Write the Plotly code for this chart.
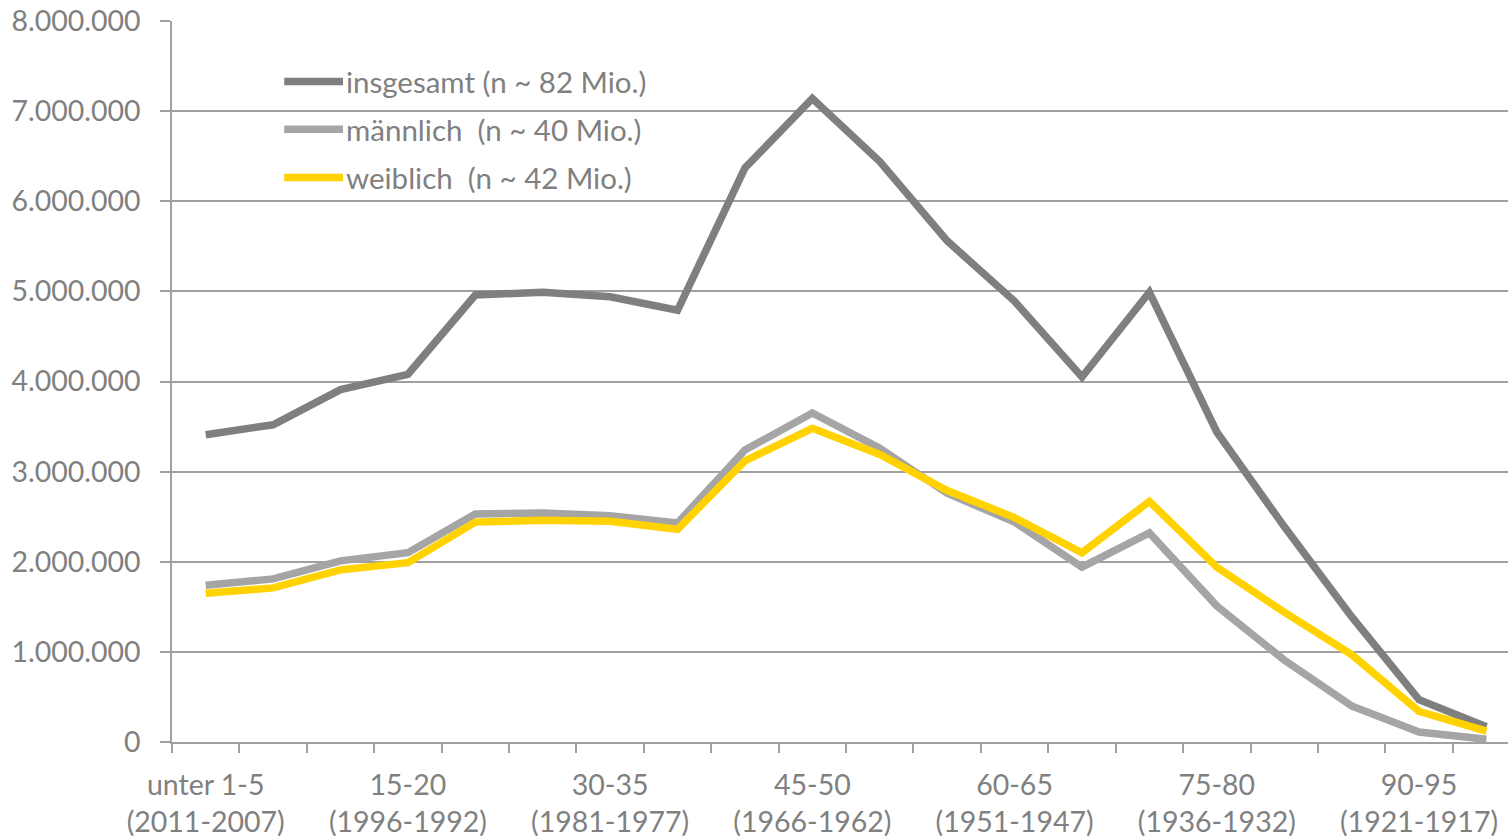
import plotly.graph_objects as go

# Altersgruppen (Jahre) mit Geburtsjahrgängen
age_groups = ["unter 1-5", "5-10", "10-15", "15-20", "20-25", "25-30", "30-35",
              "35-40", "40-45", "45-50", "50-55", "55-60", "60-65", "65-70",
              "70-75", "75-80", "80-85", "85-90", "90-95", "95-100"]
birth_years = ["2011-2007", "2006-2002", "2001-1997", "1996-1992", "1991-1987",
               "1986-1982", "1981-1977", "1976-1972", "1971-1967", "1966-1962",
               "1961-1957", "1956-1952", "1951-1947", "1946-1942", "1941-1937",
               "1936-1932", "1931-1927", "1926-1922", "1921-1917", "1916-1912"]

insgesamt = [3410000, 3520000, 3910000, 4080000, 4960000, 4990000, 4940000,
             4790000, 6370000, 7140000, 6440000, 5560000, 4890000, 4050000,
             4990000, 3440000, 2390000, 1390000, 470000, 170000]
maennlich = [1740000, 1810000, 2010000, 2100000, 2530000, 2540000, 2510000,
             2430000, 3240000, 3650000, 3260000, 2760000, 2440000, 1940000,
             2320000, 1510000, 910000, 400000, 110000, 30000]
weiblich = [1650000, 1710000, 1910000, 1990000, 2440000, 2460000, 2450000,
            2360000, 3120000, 3480000, 3190000, 2790000, 2490000, 2100000,
            2670000, 1940000, 1440000, 970000, 340000, 120000]

series_names = ["insgesamt (n ~ 82 Mio.)", "männlich  (n ~ 40 Mio.)",
                "weiblich  (n ~ 42 Mio.)"]
series_values = [insgesamt, maennlich, weiblich]
series_colors = ["#7f7f7f", "#a5a5a5", "#ffd200"]

label_every = 3
x_pos = list(range(len(age_groups)))

TEXT = "#808080"
GRID = "#a0a0a0"
FONT = "Lato, 'Open Sans', sans-serif"

fig = go.Figure()
for name, vals, col in zip(series_names, series_values, series_colors):
    fig.add_trace(go.Scatter(x=x_pos, y=vals, mode="lines", name=name,
                             line=dict(color=col, width=7.5)))

# Legende im Diagramm oben links
leg_x0, leg_x1 = 0.084, 0.128   # Linienmuster (Papierkoordinaten)
leg_y = [0.916, 0.850, 0.783]
for name, col, yy in zip(series_names, series_colors, leg_y):
    fig.add_shape(type="line", xref="paper", yref="paper",
                  x0=leg_x0, x1=leg_x1, y0=yy, y1=yy,
                  line=dict(color=col, width=7.5))
    fig.add_annotation(xref="paper", yref="paper", x=leg_x1 + 0.0005, y=yy,
                       text=name, showarrow=False, xanchor="left",
                       yanchor="middle",
                       font=dict(family=FONT, size=29.5, color=TEXT))

tick_idx = x_pos[::label_every]
tick_txt = [f"{age_groups[i]}<br>({birth_years[i]})" for i in tick_idx]

fig.update_layout(
    width=1508, height=840,
    margin=dict(l=172, r=0, t=21, b=98),
    paper_bgcolor="white", plot_bgcolor="white",
    showlegend=False,
    separators=",.",
    font=dict(family=FONT, size=28, color=TEXT),
    xaxis=dict(
        range=[-0.5, 19.32],
        tickmode="array", tickvals=tick_idx, ticktext=tick_txt,
        ticks="", showgrid=False, zeroline=False,
        showline=True, linecolor=GRID, linewidth=1.5,
        ticklabelstandoff=17,
        tickfont=dict(family=FONT, size=28.5, color=TEXT),
        minor=dict(tickmode="linear", tick0=-0.5, dtick=1, ticks="outside",
                   ticklen=9, tickcolor=GRID, tickwidth=1.5, showgrid=False),
    ),
    yaxis=dict(
        range=[0, 8000000], dtick=1000000, tickformat=",d",
        showgrid=True, gridcolor=GRID, gridwidth=1.5,
        zeroline=False, showline=True, linecolor=GRID, linewidth=1.5,
        ticks="outside", ticklen=10, tickcolor=GRID, tickwidth=1.5,
        ticklabelstandoff=14,
        tickfont=dict(family=FONT, size=28.5, color=TEXT),
    ),
)

fig.write_html("out.html")
